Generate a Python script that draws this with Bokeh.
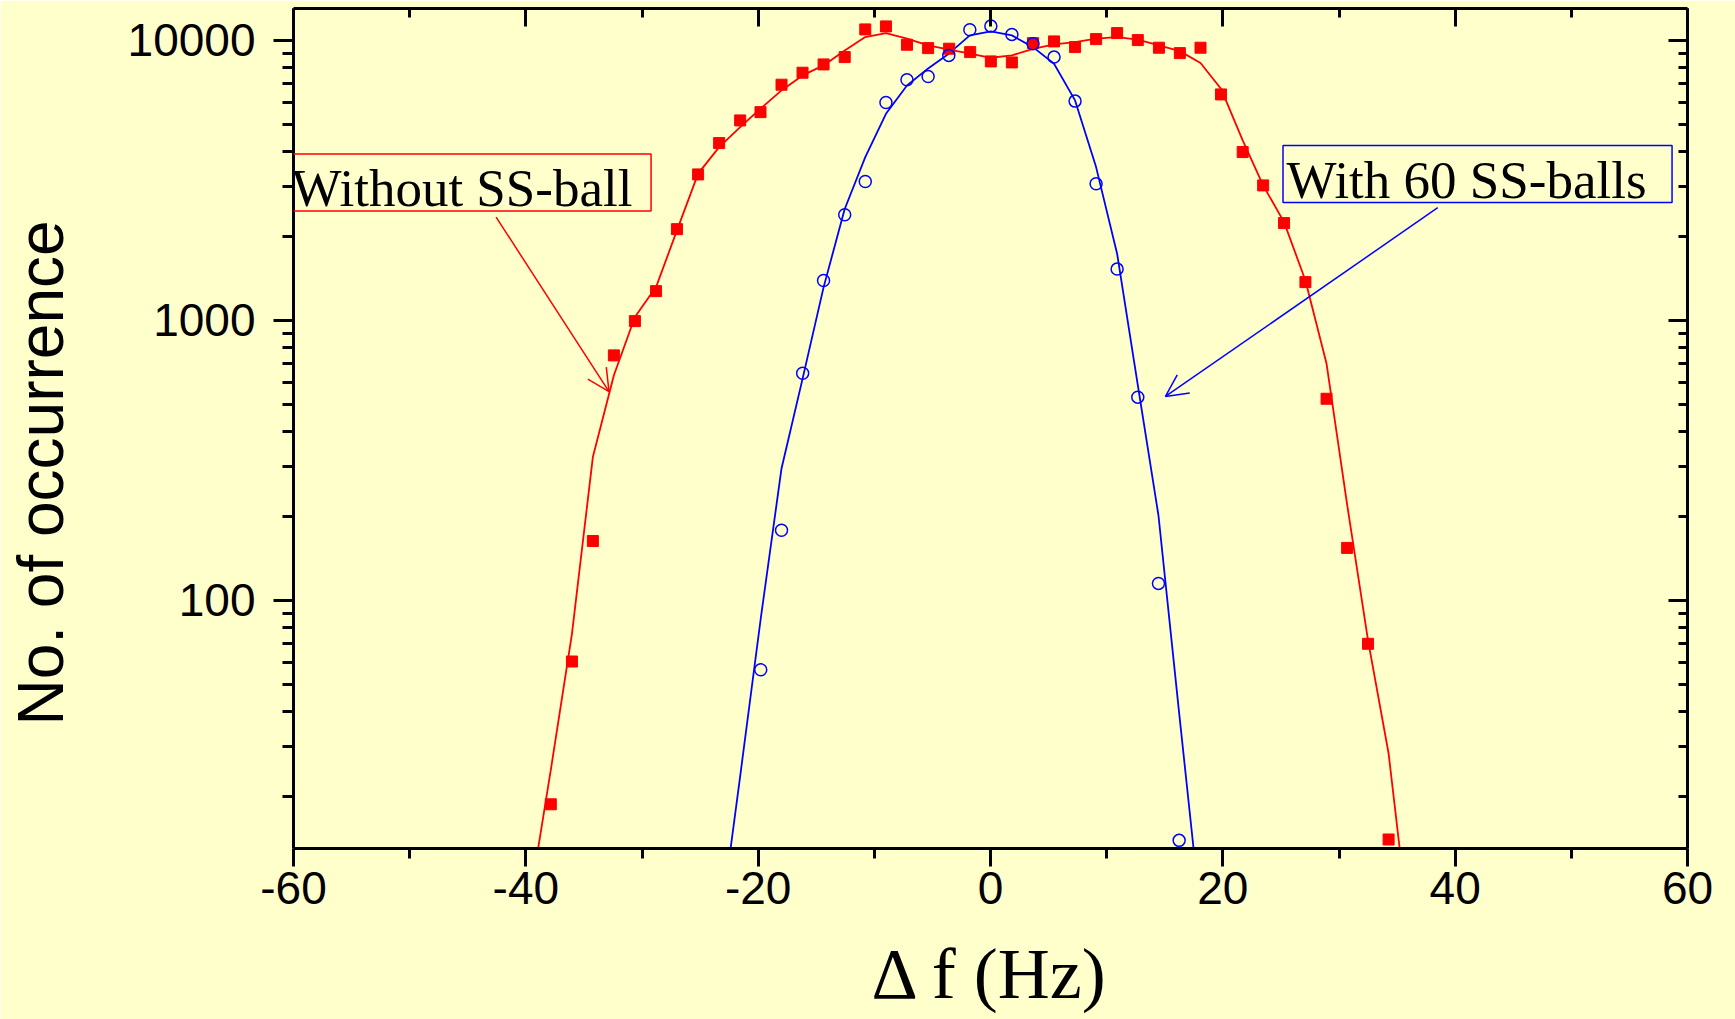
from bokeh.plotting import figure
from bokeh.models import (Range1d, LogAxis, LinearAxis, FixedTicker,
                          PrintfTickFormatter, CustomJSTickFormatter, Label, BoxAnnotation,
                          Arrow, OpenHead, ColumnDataSource)
from bokeh.embed import file_html
from bokeh.resources import INLINE

# ---------------- data ----------------
# Without SS-ball (red squares)
freq_without = [-37.85, -36.03, -34.23, -32.42, -30.61, -28.79, -26.99, -25.17, -23.36, -21.55,
                -19.80, -17.99, -16.18, -14.37, -12.55, -10.78, -9.00, -7.19, -5.37, -3.56,
                -1.75, 0.03, 1.84, 3.66, 5.47, 7.28, 9.09, 10.90, 12.68, 14.50,
                16.30, 18.08, 19.84, 21.71, 23.47, 25.27, 27.11, 28.93, 30.70, 32.50, 34.27]
count_without = [18.7, 60.5, 163, 750, 994, 1272, 2118, 3322, 4298, 5179,
                 5544, 6947, 7666, 8208, 8717, 10947, 11220, 9652, 9386, 9341,
                 9082, 8414, 8344, 9781, 9918, 9464, 10107, 10619, 10025, 9417,
                 9007, 9417, 6414, 3992, 3035, 2226, 1370, 525, 154, 70, 14.0]
# fitted curve, Without SS-ball
fit_freq_without = [-39.66, -37.85, -36.03, -34.23, -32.42, -30.61, -28.79, -26.99, -25.17, -23.36,
                    -21.55, -19.80, -17.99, -16.18, -14.37, -12.55, -10.78, -9.00, -7.19, -5.37,
                    -3.56, -1.75, 0.03, 1.84, 3.66, 5.47, 7.28, 9.09, 10.90, 12.68,
                    14.50, 16.30, 18.08, 19.84, 21.71, 23.47, 25.27, 27.11, 28.93, 30.70,
                    32.50, 34.27, 36.07]
fit_count_without = [8.5, 24.8, 76, 325, 637, 1028, 1315, 2096, 3342, 4159,
                     4898, 5704, 6627, 7499, 8141, 9211, 10275, 10617, 10140, 9597,
                     9265, 8963, 8670, 8841, 9333, 9676, 9862, 10140, 10275, 10058,
                     9597, 9158, 8300, 6723, 4394, 3035, 2244, 1389, 700, 220,
                     72, 28.4, 6.5]

# With 60 SS-balls (blue open circles)
freq_with = [-19.78, -17.99, -16.17, -14.37, -12.55, -10.78, -9.00, -7.19, -5.37, -3.59,
             -1.78, 0.03, 1.84, 3.66, 5.47, 7.28, 9.09, 10.90, 12.68, 14.46, 16.24]
count_with = [56.5, 178, 648, 1389, 2385, 3136, 6005, 7237, 7437, 8841,
              10919, 11248, 10506, 9732, 8717, 6070, 3077, 1525, 532, 115, 13.9]
# fitted curve, With 60 SS-balls
fit_freq_with = [-23.38, -21.57, -19.78, -17.99, -16.17, -14.37, -12.55, -10.78, -9.00, -7.19,
                 -5.37, -3.59, -1.78, 0.03, 1.84, 3.66, 5.47, 7.28, 9.09, 10.90,
                 12.68, 14.46, 16.24, 18.05]
fit_count_with = [6.3, 23.2, 86, 296, 621, 1312, 2500, 3828, 5470, 6900,
                  7943, 8965, 10420, 10770, 10420, 9464, 8257, 6105, 3528, 1730,
                  587, 201, 39.6, 7.8]

x_major_ticks = [-60, -40, -20, 0, 20, 40, 60]
x_minor_ticks = [-50, -30, -10, 10, 30, 50]
y_major_ticks = [100, 1000, 10000]
y_minor_ticks = [20, 30, 40, 50, 60, 70, 80, 90,
                 200, 300, 400, 500, 600, 700, 800, 900,
                 2000, 3000, 4000, 5000, 6000, 7000, 8000, 9000]

BG = "#FFFFCC"
RED = "#FF0000"
BLUE = "#0000FF"

p = figure(width=1735, height=1019,
           x_range=Range1d(-60, 60), y_range=Range1d(13, 13000),
           y_axis_type="log", output_backend="svg", toolbar_location=None,
           min_border_left=293, min_border_right=48, min_border_top=8, min_border_bottom=171)
p.background_fill_color = BG
p.border_fill_color = BG
p.outline_line_color = None
p.grid.visible = False

x_ticker = FixedTicker(ticks=x_major_ticks, minor_ticks=x_minor_ticks)
y_ticker = FixedTicker(ticks=y_major_ticks, minor_ticks=y_minor_ticks)

# bottom axis
xa = p.xaxis[0]
xa.ticker = x_ticker
xa.formatter = PrintfTickFormatter(format="%d")
xa.axis_line_width = 3
xa.major_tick_line_width = 3
xa.minor_tick_line_width = 3
xa.major_tick_out = 18
xa.major_tick_in = 0
xa.minor_tick_out = 10
xa.minor_tick_in = 0
xa.major_label_standoff = 5
xa.major_label_text_font = "Liberation Sans"
xa.major_label_text_font_size = "46px"
xa.major_label_text_color = "black"
xa.axis_label = "\u0394 f (Hz)"
xa.axis_label_text_font = "Liberation Serif"
xa.axis_label_text_font_size = "72px"
xa.axis_label_text_font_style = "normal"
xa.axis_label_text_color = "black"
xa.axis_label_standoff = 27

# left axis
ya = p.yaxis[0]
ya.ticker = y_ticker
ya.formatter = PrintfTickFormatter(format="%d")
ya.axis_line_width = 3
ya.major_tick_line_width = 3
ya.minor_tick_line_width = 3
ya.major_tick_out = 20
ya.major_tick_in = 0
ya.minor_tick_out = 11
ya.minor_tick_in = 0
ya.major_label_standoff = 18
ya.major_label_text_font = "Liberation Sans"
ya.major_label_text_font_size = "46px"
ya.major_label_text_color = "black"
ya.axis_label = "No. of occurrence" + "\u00a0" * 5
ya.axis_label_text_font = "Liberation Sans"
ya.axis_label_text_font_size = "64px"
ya.axis_label_text_font_style = "normal"
ya.axis_label_text_color = "black"
ya.axis_label_standoff = 48

# top axis (ticks inward, no labels)
top = LinearAxis(ticker=x_ticker, formatter=CustomJSTickFormatter(code="return ''"),
                 axis_line_width=3, major_tick_line_width=3, minor_tick_line_width=3,
                 major_tick_in=18, major_tick_out=0, minor_tick_in=9, minor_tick_out=0,
                 major_label_standoff=0, major_label_text_font_size="0px")
p.add_layout(top, "above")

# right axis (ticks inward, no labels)
right = LogAxis(ticker=y_ticker, formatter=CustomJSTickFormatter(code="return ''"),
                axis_line_width=3, major_tick_line_width=3, minor_tick_line_width=3,
                major_tick_in=19, major_tick_out=0, minor_tick_in=9, minor_tick_out=0,
                major_label_standoff=0, major_label_text_font_size="0px")
p.add_layout(right, "right")

# series
src_wo = ColumnDataSource(dict(x=freq_without, y=count_without))
src_wo_fit = ColumnDataSource(dict(x=fit_freq_without, y=fit_count_without))
src_w = ColumnDataSource(dict(x=freq_with, y=count_with))
src_w_fit = ColumnDataSource(dict(x=fit_freq_with, y=fit_count_with))

p.line("x", "y", source=src_wo_fit, line_color=RED, line_width=1.8)
p.line("x", "y", source=src_w_fit, line_color=BLUE, line_width=1.8)
p.scatter("x", "y", source=src_wo, marker="square", size=11, fill_color=RED, line_color=RED)
p.scatter("x", "y", source=src_w, marker="circle", size=12, fill_color=None,
          line_color=BLUE, line_width=1.5)

# annotations
p.add_layout(BoxAnnotation(left=-60.43, right=-29.22, bottom=2457, top=3932,
                           fill_color=None, line_color=RED, line_alpha=1.0, line_width=1.5))
p.add_layout(Label(x=-60.17, y=2968, text="Without SS-ball", text_baseline="alphabetic",
                   text_align="left", text_font="Liberation Serif", text_font_size="53px",
                   text_color="black"))
p.add_layout(Arrow(end=OpenHead(line_color=RED, line_width=1.5, size=22),
                   x_start=-42.56, y_start=2339, x_end=-32.84, y_end=557,
                   line_color=RED, line_width=1.5))

p.add_layout(BoxAnnotation(left=25.18, right=58.67, bottom=2638, top=4217,
                           fill_color=None, line_color=BLUE, line_alpha=1.0, line_width=1.5))
p.add_layout(Label(x=25.48, y=3181, text="With 60 SS-balls", text_baseline="alphabetic",
                   text_align="left", text_font="Liberation Serif", text_font_size="53px",
                   text_color="black"))
p.add_layout(Arrow(end=OpenHead(line_color=BLUE, line_width=1.5, size=22),
                   x_start=38.5, y_start=2526, x_end=15.06, y_end=535,
                   line_color=BLUE, line_width=1.5))

open("out.html", "w").write(file_html(p, INLINE))
